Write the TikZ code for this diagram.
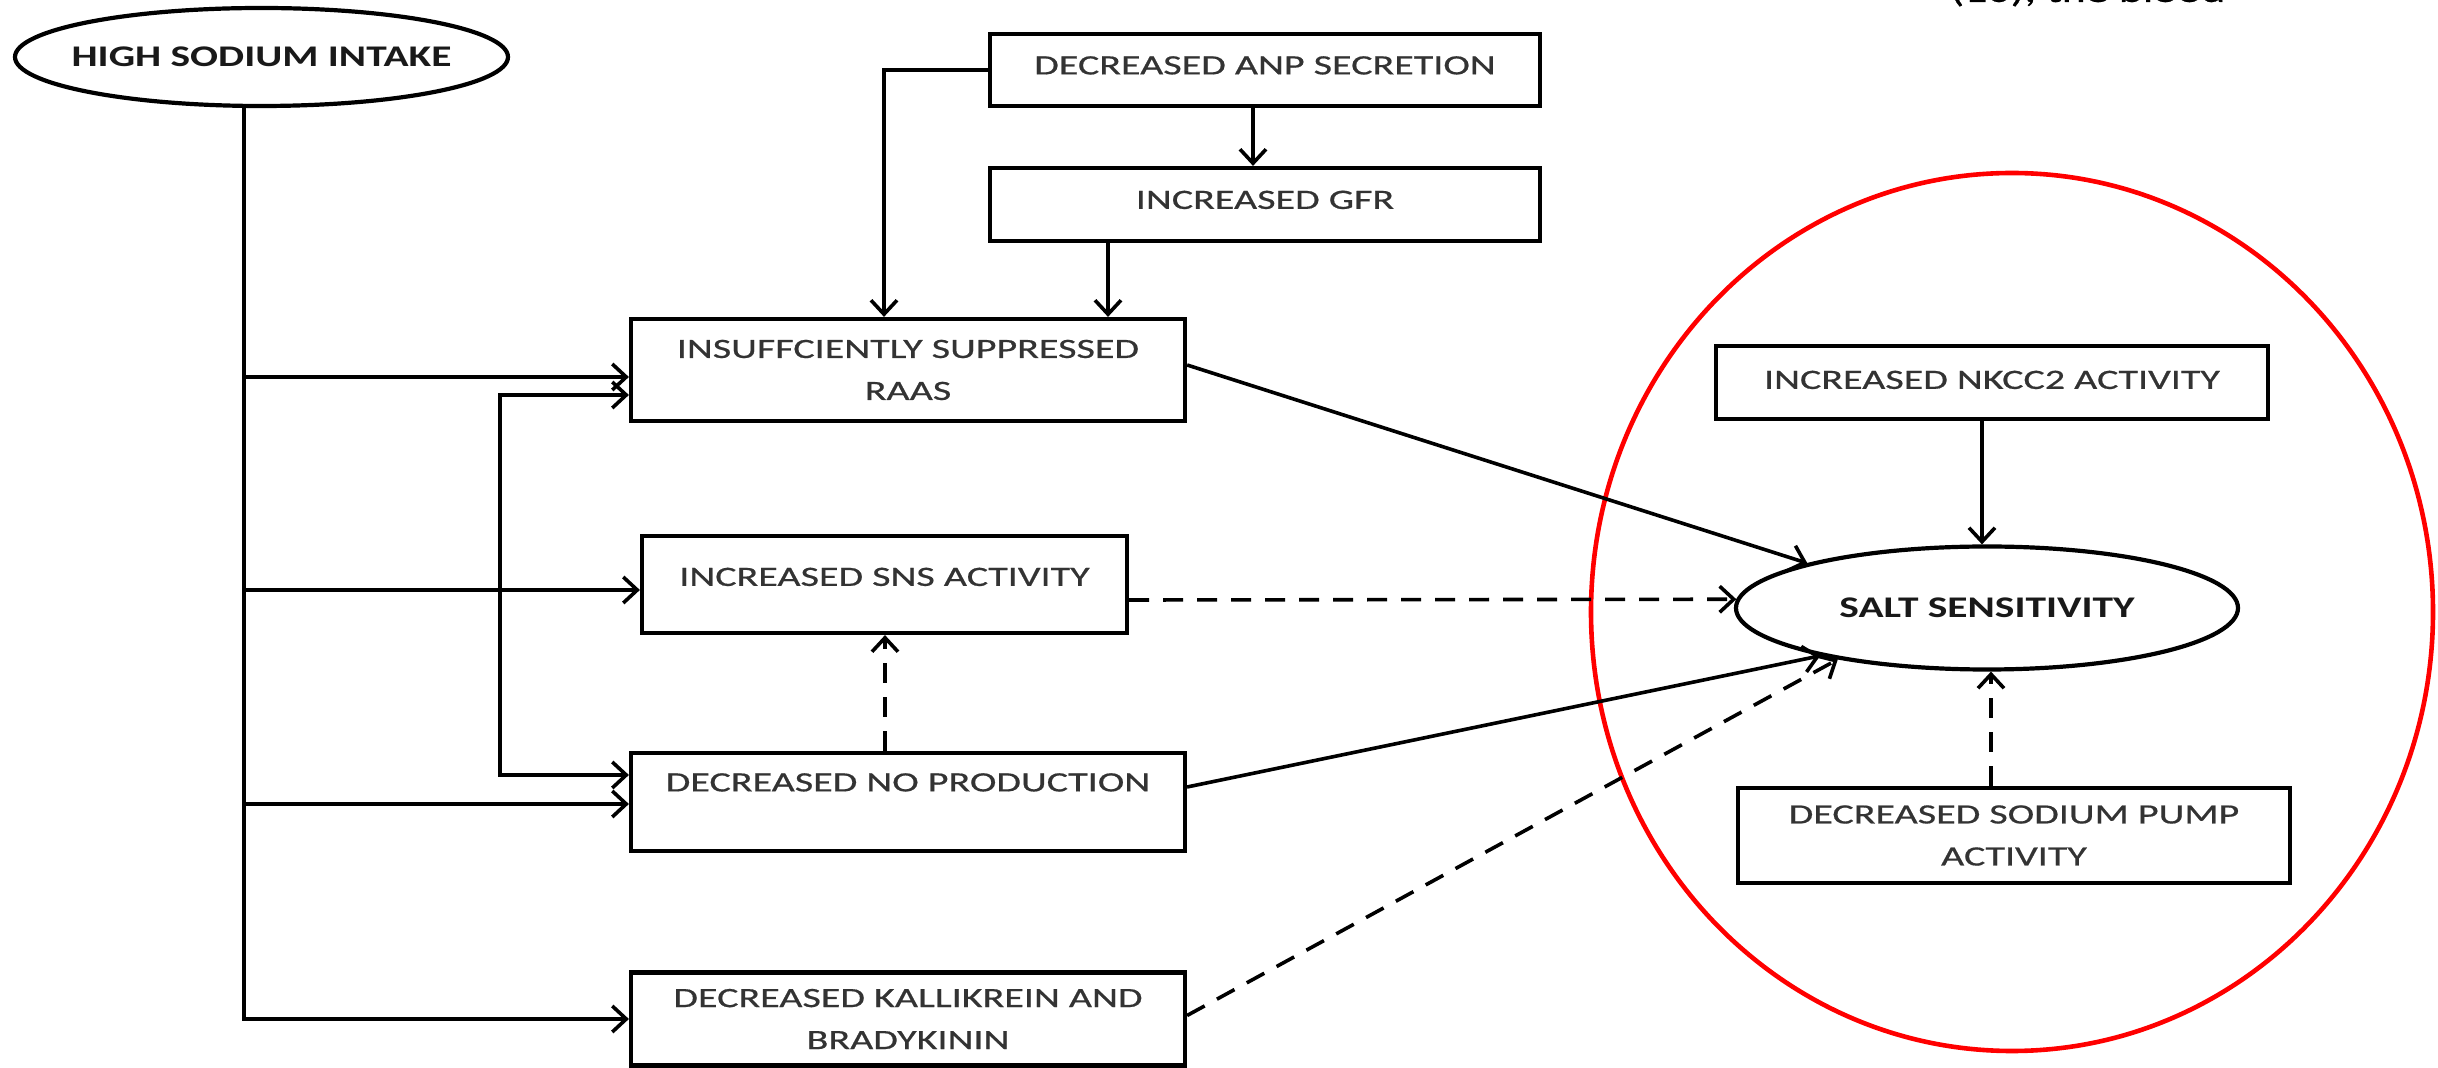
\documentclass[tikz,border=0pt]{standalone}
\usepackage{fontspec}
\setmainfont{Carlito}[FakeStretch=1.43, FakeBold=0.6]
\newfontfamily\boldface{Carlito}[FakeStretch=1.38]
\usetikzlibrary{arrows.meta,shapes.geometric}
\newcommand{\fsreg}{\fontsize{14pt}{21pt}\selectfont}
\newcommand{\fsbold}{\fontsize{15pt}{21pt}\boldface\bfseries}
\begin{document}
\begin{tikzpicture}[x=0.5pt,y=-0.5pt,
  box/.style={draw, line width=2.1pt, rectangle, inner sep=0pt, font=\fsreg, text=black!80},
  twoline/.style={box, align=center},
  oval/.style={draw, line width=2.1pt, ellipse, inner xsep=-20pt, inner ysep=0pt, font=\fsbold, text=black!90},
  arr/.style={line width=1.8pt, -{Straight Barb[length=7pt,width=13pt,line width=1.8pt]}},
  darr/.style={arr, dash pattern=on 10pt off 7pt},
  bothends/.style={line width=1.8pt, {Straight Barb[length=7pt,width=13pt,line width=1.8pt]}-{Straight Barb[length=7pt,width=13pt,line width=1.8pt]}}
]
\useasboundingbox (0,0) rectangle (2438,1068);
\fill[white] (0,0) rectangle (2438,1068);

% cropped caption line at the top edge (only its lowest pixels show)
\node[anchor=base west, inner sep=0pt, font=\fontsize{16pt}{18pt}\selectfont] (cap) at (1950,2) {(10), the blood};

% nodes
\node[oval, minimum width=246.5pt, minimum height=49pt] (hsi) at (261.5,57) {HIGH SODIUM INTAKE};
\node[box, minimum width=275pt, minimum height=36pt, text height=10pt, text depth=5.6pt] (anp) at (1265,70) {DECREASED ANP SECRETION};
\node[box, minimum width=275pt, minimum height=36.5pt, text height=10pt, text depth=5.6pt] (gfr) at (1265,204.5) {INCREASED GFR};
\node[twoline, minimum width=277pt, minimum height=51pt] (raas) at (908,370) {INSUFFCIENTLY SUPPRESSED\\RAAS};
\node[box, minimum width=242.5pt, minimum height=48.5pt, text height=10pt, text depth=8.6pt] (sns) at (884.5,584.5) {INCREASED SNS ACTIVITY};
\node[box, minimum width=277pt, minimum height=49pt, text height=10pt, text depth=20.6pt] (no) at (908,802) {DECREASED NO PRODUCTION};
\node[twoline, minimum width=277pt, minimum height=46.5pt] (kb) at (908,1019) {DECREASED KALLIKREIN AND\\BRADYKININ};
\node[box, minimum width=276pt, minimum height=36.5pt, text height=10pt, text depth=3.6pt] (nkcc) at (1992,382.5) {INCREASED NKCC2 ACTIVITY};
\node[oval, minimum width=251pt, minimum height=61.5pt] (salt) at (1987,608) {SALT SENSITIVITY};
\node[twoline, minimum width=276pt, minimum height=47.5pt] (pump) at (2014,835.5) {DECREASED SODIUM PUMP\\ACTIVITY};

% red highlight ellipse
\draw[red, line width=2.3pt] (2012,612) ellipse [x radius=210.5pt, y radius=219.5pt];

% trunk from high sodium intake
\coordinate (t0) at (244,105);
\coordinate (r1) at ([yshift=-3.5pt]raas.west);
\coordinate (r2) at ([yshift=-12.5pt]raas.west);
\coordinate (s1) at ([yshift=-2.75pt]sns.west);
\coordinate (n1) at ([yshift=13.5pt]no.west);
\coordinate (n2) at ([yshift=-1pt]no.west);
\draw[arr] (t0) |- (kb.west);
\draw[arr] (t0 |- r1) -- (r1);
\draw[arr] (t0 |- s1) -- (s1);
\draw[arr] (t0 |- n2) -- (n2);
\draw[bothends] (r2) -- ++(-129,0) |- (n1);

% top branch
\draw[arr] (anp.west) -| ([xshift=-12pt]raas.north);
\draw[arr] ([xshift=-6pt]anp.south) -- ([xshift=-6pt]gfr.north);
\draw[arr] ([xshift=-78.5pt]gfr.south) -- ([xshift=-78.5pt]gfr.south |- raas.north);

% NO -> SNS
\draw[darr] ([xshift=-11.5pt]no.north) -- ([xshift=-11.5pt]no.north |- sns.south);

% to salt sensitivity
\draw[arr] ([yshift=2.5pt]raas.east) -- (salt.166);
\draw[darr] ([yshift=-7.75pt]sns.east) -- (salt.178);
\draw[arr] ([yshift=7.5pt]no.east) -- (salt.196);
\draw[darr] ([yshift=1.75pt]kb.east) -- (salt.199);
\draw[arr] ([xshift=-5pt]nkcc.south) -- ([xshift=-5pt]nkcc.south |- salt.north);
\draw[darr] ([xshift=-11.5pt]pump.north) -- ([xshift=-11.5pt]pump.north |- salt.south);
\end{tikzpicture}
\end{document}
